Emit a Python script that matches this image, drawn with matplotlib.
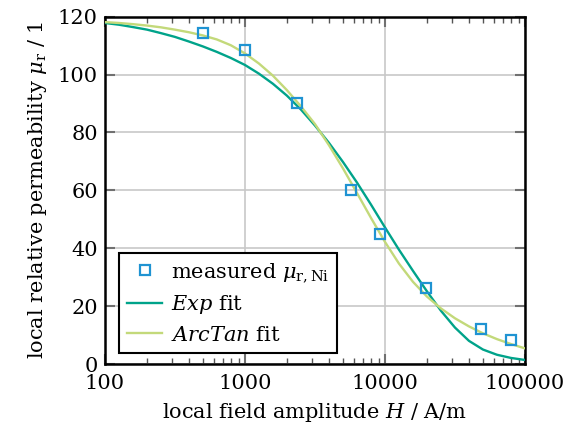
import numpy as np
import matplotlib
matplotlib.use("Agg")
import matplotlib.pyplot as plt
from matplotlib.ticker import FixedLocator, FixedFormatter, LogLocator, NullFormatter

plt.rcParams['font.family'] = ['DejaVu Serif']
plt.rcParams['mathtext.fontset'] = 'dejavuserif'

# measured points
H_meas = [504, 1004, 2366, 5690, 9200, 19630, 48500, 79000]
mu_meas = [114.4, 108.3, 90.2, 60.0, 45.0, 26.3, 12.2, 8.3]

H_fit = [100, 126, 158, 200, 251, 316, 398, 501, 631, 794,
         1000, 1259, 1585, 1995, 2512, 3162, 3981, 5012, 6310, 7943,
         10000, 12589, 15849, 19953, 25119, 31623, 39811, 50119, 63096, 79433,
         100000]

# Exp fit curve
mu_exp = [117.8, 117.2, 116.4, 115.5, 114.3, 113.0, 111.4, 109.7, 107.8, 105.7,
          103.3, 100.3, 96.8, 92.7, 87.9, 82.4, 76.4, 69.8, 62.7, 55.1,
          47.2, 39.5, 32.2, 25.1, 18.4, 12.6, 8.0, 5.0, 3.2, 2.1,
          1.4]

# ArcTan fit curve
mu_atan = [118.1, 117.8, 117.4, 116.9, 116.3, 115.5, 114.6, 113.5, 112.1, 110.1,
           107.3, 103.8, 99.6, 94.6, 89.0, 82.9, 75.6, 67.6, 59.1, 50.5,
           42.2, 34.7, 28.4, 23.3, 19.2, 15.8, 13.0, 10.6, 8.6, 6.9,
           5.4]

xticks = [100, 1000, 10000, 100000]
xticklabels = ['100', '1000', '10000', '100000']
yticks = [0, 20, 40, 60, 80, 100, 120]

teal = '#00a38a'
lime = '#c3d97a'
blue = '#1f93d2'

fig = plt.figure(figsize=(5.7, 4.37), dpi=100)
ax = fig.add_axes([0.184, 0.167, 0.737, 0.795])

ax.plot(H_meas, mu_meas, linestyle='none', marker='s', markersize=7,
        markerfacecolor='none', markeredgecolor=blue, markeredgewidth=1.6,
        label=r'measured $\mu_{\mathrm{r,Ni}}$', zorder=4)
ax.plot(H_fit, mu_exp, color=teal, lw=1.7, label=r'$Exp$ fit', zorder=3)
ax.plot(H_fit, mu_atan, color=lime, lw=1.7, label=r'$ArcTan$ fit', zorder=3)

ax.set_xscale('log')
ax.set_xlim(100, 100000)
ax.set_ylim(0, 120)
ax.xaxis.set_major_locator(FixedLocator(xticks))
ax.xaxis.set_major_formatter(FixedFormatter(xticklabels))
ax.xaxis.set_minor_locator(LogLocator(base=10, subs=np.arange(2, 10)))
ax.xaxis.set_minor_formatter(NullFormatter())
ax.yaxis.set_major_locator(FixedLocator(yticks))

ax.grid(True, which='major', color='#c8c8c8', lw=1.2)
ax.set_axisbelow(True)

ax.tick_params(which='both', direction='in', top=True, right=True, labelsize=15)
ax.tick_params(which='major', length=7, width=1.5, color='#707070', pad=5)
ax.tick_params(axis='x', which='major', pad=7)
ax.tick_params(which='minor', length=4, width=1.0, color='#555555')
for s in ax.spines.values():
    s.set_linewidth(1.8)
    s.set_color('black')

ax.set_xlabel(r'local field amplitude $H$ / A/m', fontsize=15, labelpad=6)
ax.set_ylabel(r'local relative permeability $\mu_{\mathrm{r}}$ / 1', fontsize=15, labelpad=6)

leg = ax.legend(loc='lower left', bbox_to_anchor=(0.033, 0.032), borderaxespad=0,
                fontsize=15, frameon=True, fancybox=False, edgecolor='black',
                framealpha=1, handlelength=1.7, handletextpad=0.4,
                labelspacing=0.45, borderpad=0.4)
leg.get_frame().set_linewidth(1.5)

fig.savefig('out.png', dpi=100)
